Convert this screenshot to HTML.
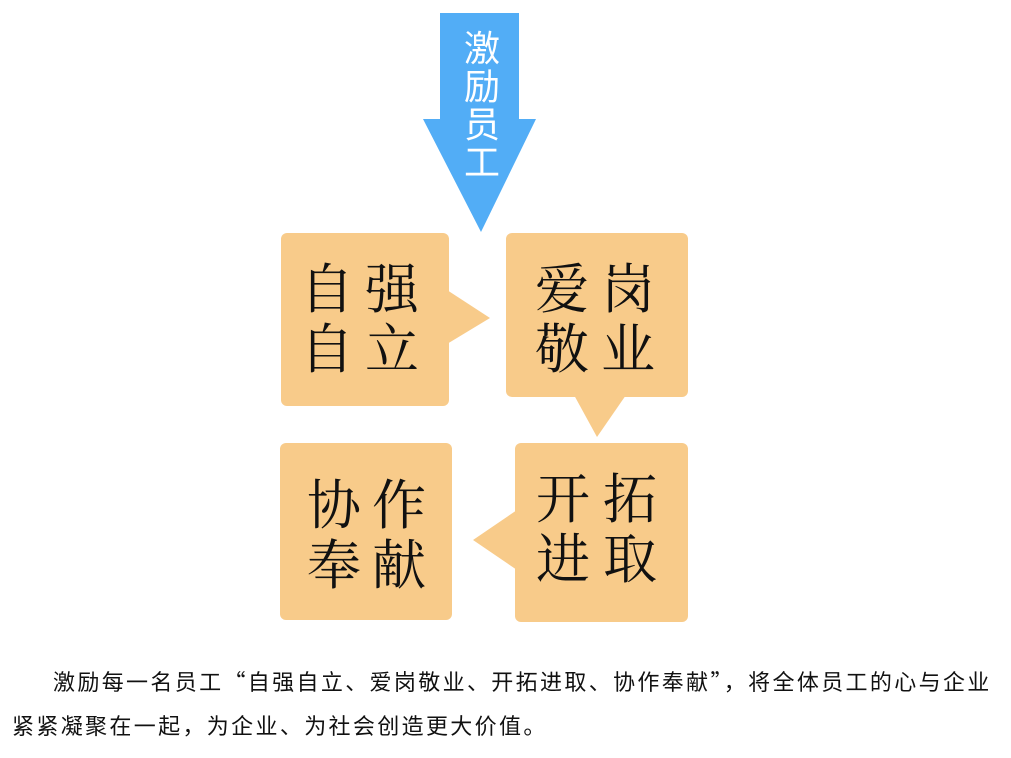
<!DOCTYPE html>
<html><head><meta charset="utf-8"><style>
html,body{margin:0;padding:0;background:#fff;width:1011px;height:758px;overflow:hidden;position:relative}
svg{position:absolute;left:0;top:0}
.p{position:absolute;font-family:"Noto Sans CJK SC","Liberation Sans",sans-serif;font-size:22px;letter-spacing:2.35px;color:#111;white-space:nowrap;line-height:30px}
</style></head><body>
<svg width="1011" height="758" viewBox="0 0 1011 758">
<polygon points="440,13 519,13 519,119 536,119 481,232 423,119 440,119" fill="#52ADF6"/>
<g font-family="'Noto Sans CJK SC',sans-serif" font-size="36" fill="#fff" text-anchor="middle">
<text x="482" y="61">激</text><text x="482" y="99">励</text><text x="482" y="137">员</text><text x="482" y="175">工</text>
</g>
<g fill="#F8CB8A">
<rect x="281" y="233" width="168" height="173" rx="6"/>
<polygon points="447,290 490,318 447,344"/>
<rect x="506" y="233" width="182" height="164" rx="6"/>
<polygon points="574,395 626,395 597,437"/>
<rect x="515" y="443" width="173" height="179" rx="6"/>
<polygon points="517,510 473,540 517,570"/>
<rect x="280" y="443" width="172" height="177" rx="6"/>
</g>
<g font-family="'Noto Serif CJK SC','Noto Sans CJK SC',serif" font-size="54" fill="#111" text-anchor="middle">
<text x="327" y="308">自</text><text x="392" y="308">强</text>
<text x="327" y="368">自</text><text x="392" y="368">立</text>
<text x="562" y="308">爱</text><text x="628" y="308">岗</text>
<text x="562" y="368">敬</text><text x="628" y="368">业</text>
<text x="563" y="518">开</text><text x="630" y="518">拓</text>
<text x="563" y="578">进</text><text x="630" y="578">取</text>
<text x="334" y="524">协</text><text x="399" y="524">作</text>
<text x="334" y="584">奉</text><text x="399" y="584">献</text>
</g>
</svg>
<div class="p" style="left:53px;top:666px">激励每一名员工“自强自立、爱岗敬业、开拓进取、协作奉献”，将全体员工的心与企业</div>
<div class="p" style="left:12px;top:710px">紧紧凝聚在一起，为企业、为社会创造更大价值。</div>
</body></html>
